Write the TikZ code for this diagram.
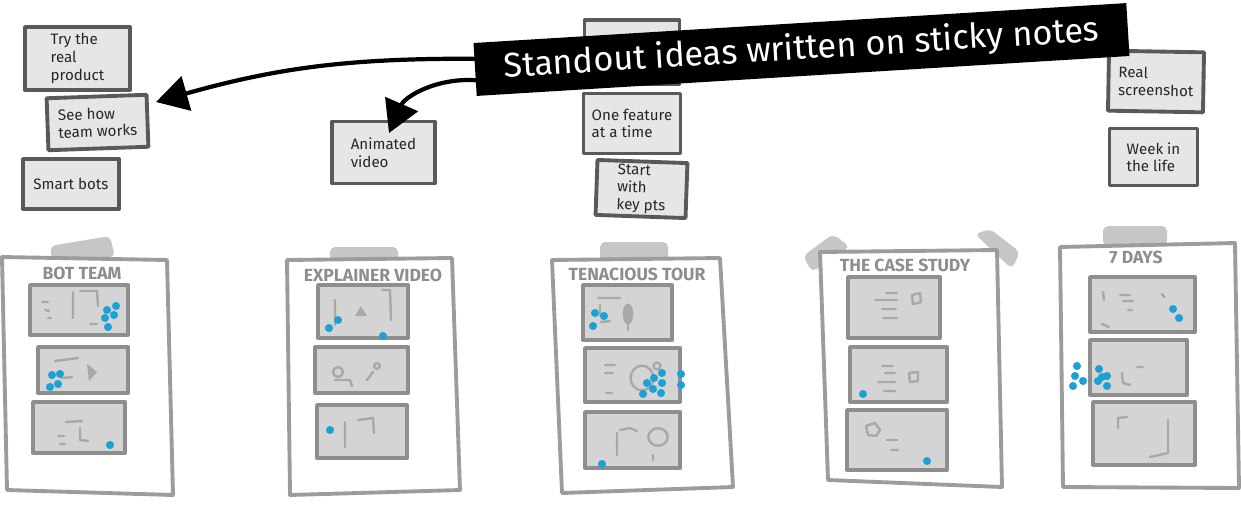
\documentclass[tikz,border=0pt]{standalone}
\usepackage{fontspec}
\setmainfont{Fira Sans}
\usetikzlibrary{arrows.meta,calc}
\definecolor{notefill}{HTML}{E6E6E7}
\definecolor{noteline}{HTML}{59595B}
\definecolor{sheetline}{HTML}{9C9C9C}
\definecolor{panelfill}{HTML}{D4D4D5}
\definecolor{panelline}{HTML}{8E8E8E}
\definecolor{inkgray}{HTML}{A9A9A9}
\definecolor{tapegray}{HTML}{C6C6C6}
\definecolor{dotblue}{HTML}{1BA1D4}
\newdimen\pxu \pxu=0.02cm
\begin{document}
\begin{tikzpicture}[x=0.02cm,y=-0.02cm,line join=round,line cap=round,
	>={Triangle[length=18pt,width=20pt]},
	sticky/.style={draw=noteline,fill=notefill,line width=2.2pt,align=left,inner sep=1pt,text=black!85,font=\fontsize{8.6}{10}\selectfont},
	sheet/.style={draw=sheetline,fill=white,line width=2.2pt},
	panel/.style={draw=panelline,fill=panelfill,line width=2.2pt},
	tape/.style={fill=tapegray,rounded corners=3pt},
	scribble/.style={draw=inkgray,line width=1.4pt},
	vote/.style={fill=dotblue},
	boardtitle/.style={text=panelline,font=\bfseries\fontsize{10}{12}\selectfont},
	pointer/.style={->,line width=2.4pt}]
	\useasboundingbox (0,0) rectangle (1241,508);
	%======================== tapes and sheets
	\fill[tape] (50,246)--(110,236)--(115,257)--(52,260)--cycle;
	\fill[tape] (330,247) rectangle (398,262);
	\fill[tape] (600,242) rectangle (668,262);
	\fill[tape] (803,256)--(833,234)--(850,247)--(812,272)--cycle;
	\fill[tape] (975,234)--(990,229)--(1020,252)--(1012,269)--cycle;
	\fill[tape] (1103,226) rectangle (1167,246);
	\draw[sheet] (2,257)--(167,260)--(173,495)--(7,490)--cycle;
	\draw[sheet] (287,260)--(452,258)--(460,490)--(290,495)--cycle;
	\draw[sheet] (552,260)--(720,258)--(733,487)--(562,493)--cycle;
	\draw[sheet] (820,252)--(997,250)--(1002,487)--(828,480)--cycle;
	\draw[sheet] (1060,247)--(1235,243)--(1239,488)--(1063,487)--cycle;
	%======================== titles
	\node[boardtitle] (botteam) at (82,273) {BOT TEAM};
	\node[boardtitle] (explainer) at (373,275) {EXPLAINER VIDEO};
	\node[boardtitle] (tenacious) at (637,274) {TENACIOUS TOUR};
	\node[boardtitle] (casestudy) at (905,265) {THE CASE STUDY};
	\node[boardtitle] (sevendays) at (1136,257) {7 DAYS};
	%======================== panels
	\draw[panel] (30,285) rectangle (128,335);
	\draw[panel] (38,347) rectangle (128,393);
	\draw[panel] (33,402) rectangle (125,453);
	\draw[panel] (318,285) rectangle (408,338);
	\draw[panel] (315,347) rectangle (408,393);
	\draw[panel] (317,405) rectangle (407,458);
	\draw[panel] (583,285) rectangle (672,340);
	\draw[panel] (585,348) rectangle (680,402);
	\draw[panel] (585,412) rectangle (680,468);
	\draw[panel] (848,277) rectangle (940,338);
	\draw[panel] (850,347) rectangle (947,402);
	\draw[panel] (847,410) rectangle (947,470);
	\draw[panel] (1090,277) rectangle (1195,332);
	\draw[panel] (1090,340) rectangle (1187,395);
	\draw[panel] (1093,402) rectangle (1195,465);
	%======================== sketches in the panels
	\draw[scribble] (42,302)--(48,302) (45,310)--(49,311) (48,318)--(51,318)
		(73,292)--(73,318) (80,291)--(97,291)--(98,306) (90,324)--(97,324)
		(55,361)--(78,358) (62,378)--(72,377)
		(66,422)--(82,421) (80,428)--(80,440)--(88,441) (58,436)--(64,436) (60,444)--(65,444);
	\fill[inkgray] (87,364)--(97,372)--(89,381)--cycle;
	\draw[scribble] (335,300)--(335,325) (382,290)--(390,290)--(391,320)
		(338,372) circle (2.8pt) (335,380)--(350,380)--(352,386) (367,380)--(373,372) (377,366) circle (1.6pt)
		(345,422)--(345,447) (358,420)--(373,418)--(374,433);
	\fill[inkgray] (355,316)--(361,306)--(367,316)--cycle;
	\draw[scribble] (598,298)--(620,298) (600,305)--(600,316) (601,322)--(610,321)
		(605,365)--(615,365) (605,373)--(613,373) (606,393)--(612,393)
		(642,378) ellipse (6.5pt and 7pt) (657,366) circle (2pt)
		(617,433)--(617,455) (620,430)--(630,428)--(637,431) (658,437) ellipse (5.5pt and 5pt) (653,455)--(653,460);
	\fill[inkgray] (628,314) ellipse (3pt and 6pt);
	\draw[scribble] (628,320)--(628,330);
	\draw[scribble] (886,293)--(897,293) (875,300)--(897,300) (882,309)--(896,309) (883,318)--(897,318)
		(912,295)--(920,293)--(921,302)--(913,304)--cycle
		(882,366)--(893,366) (885,373)--(895,373) (878,382)--(895,382) (884,391)--(895,391)
		(909,373)--(918,372)--(918,381)--(910,382)--cycle
		(866,426)--(875,423)--(880,430)--(876,436)--(868,435)--cycle (887,440)--(897,440) (891,450)--(898,450);
	\draw[scribble] (1103,292)--(1104,300) (1120,295)--(1130,295) (1123,301)--(1133,301) (1128,310)--(1132,310)
		(1162,294)--(1164,297) (1102,324)--(1109,327)
		(1137,367)--(1143,367) (1122,373)--(1123,383)--(1130,385)
		(1118,428)--(1118,418)--(1127,417) (1168,420)--(1168,453)--(1150,457);
	%======================== dot votes
	\foreach \p in {(107,310),(116,306),(105,318),(114,315),(108,327),
		(52,375),(60,374),(50,387),(58,384),(110,445),
		(338,320),(329,328),(383,336),(330,430),
		(595,313),(604,316),(593,326),(662,373),(654,378),(647,383),(662,383),(653,389),
		(661,393),(643,394),(681,374),(681,385),(602,464),
		(863,394),(927,461),
		(1173,309),(1179,318),(1077,366),(1099,369),(1075,376),(1083,381),(1107,376),
		(1098,381),(1073,386),(1107,386),(1102,377)}
		\fill[vote] \p circle (2.3pt);
	%======================== sticky notes
	\node[sticky,minimum width=105\pxu,minimum height=63\pxu] (tryit) at (77.5,58.5) {Try the\\real\\product};
	\node[sticky,minimum width=100\pxu,minimum height=52\pxu,rotate=2] (seeteam) at (97.5,122.5) {See how\\team works};
	\node[sticky,minimum width=96\pxu,minimum height=50\pxu] (bots) at (71,184) {Smart bots};
	\node[sticky,minimum width=103\pxu,minimum height=62\pxu] (video) at (383.5,152.5) {Animated\\video};
	\node[sticky,minimum width=95\pxu,minimum height=64\pxu] (covered) at (632,52) {};
	\node[sticky,minimum width=97\pxu,minimum height=60\pxu] (feature) at (632,123.5) {One feature\\at a time};
	\node[sticky,minimum width=90\pxu,minimum height=55\pxu,rotate=-2] (keypts) at (641.5,189) {Start\\with\\key pts};
	\node[sticky,minimum width=95\pxu,minimum height=60\pxu,rotate=-1] (shot) at (1156,81.5) {Real\\screenshot};
	\node[sticky,minimum width=88\pxu,minimum height=57\pxu] (week) at (1153.5,157) {Week in\\the life};
	%======================== banner and arrows
	\node[fill=black,text=white,rotate=3.5,minimum width=654\pxu,minimum height=53\pxu,
		font=\fontsize{19.5}{22}\selectfont] (banner) at (801.5,49.5) {Standout ideas written on sticky notes};
	\coordinate (tipA) at (156,102);
	\coordinate (tipB) at (389,133);
	\draw[pointer] ($(banner.west)!.4!(banner.north west)$) to[bend right=8] (tipA);
	\draw[pointer] ($(banner.west)!.4!(banner.south west)$) to[bend right=35] (tipB);
\end{tikzpicture}
\end{document}
